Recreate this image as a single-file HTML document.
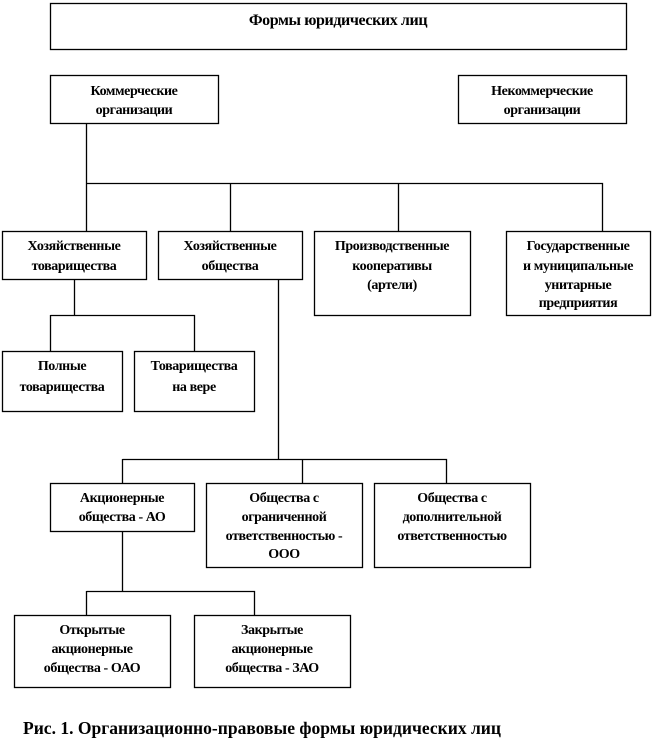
<!DOCTYPE html>
<html><head><meta charset="utf-8"><style>
html,body{margin:0;padding:0;background:#fff;}
svg{display:block;}
text{font-family:"Liberation Serif","Times New Roman",Times,serif;font-weight:bold;font-size:14px;fill:#000;text-anchor:middle;letter-spacing:-0.4px;}
</style></head><body>
<svg width="654" height="748" viewBox="0 0 654 748" xmlns="http://www.w3.org/2000/svg" font-family="Liberation Serif, serif">
<g fill="none" stroke="#000" stroke-width="1.3">
<rect x="50.5" y="3.5" width="576" height="46"/>
<rect x="50.5" y="75.5" width="168" height="48"/>
<rect x="458.5" y="75.5" width="168" height="48"/>
<rect x="2.5" y="231.5" width="144" height="48"/>
<rect x="158.5" y="231.5" width="144" height="48"/>
<rect x="314.5" y="231.5" width="156" height="84"/>
<rect x="506.5" y="231.5" width="144" height="84"/>
<rect x="2.5" y="351.5" width="120" height="60"/>
<rect x="134.5" y="351.5" width="120" height="60"/>
<rect x="50.5" y="483.5" width="144" height="48"/>
<rect x="206.5" y="483.5" width="156" height="84"/>
<rect x="374.5" y="483.5" width="156" height="84"/>
<rect x="14.5" y="615.5" width="156" height="72"/>
<rect x="194.5" y="615.5" width="156" height="72"/>
<path d="M86.5 123V183.5H602.5V231M86.5 183V231M230.5 183V231M398.5 183V231"/>
<path d="M74.5 279V315.5M50.5 315.5H194.5V351M50.5 315V351"/>
<path d="M278.5 279V459.5H446.5V483M122.5 459V483M302.5 459V483M122.5 459.5H278"/>
<path d="M122.5 531V591.5M86.5 591.5H254.5V615M86.5 591V615"/>
</g>
<text x="338" y="25" style="font-size:16px">Формы юридических лиц</text>
<text x="134" y="95">Коммерческие</text><text x="134" y="114">организации</text>
<text x="542" y="95">Некоммерческие</text><text x="542" y="114">организации</text>
<text x="74" y="250">Хозяйственные</text><text x="74" y="270">товарищества</text>
<text x="230" y="250">Хозяйственные</text><text x="230" y="270">общества</text>
<text x="392" y="250">Производственные</text><text x="392" y="270">кооперативы</text><text x="392" y="289">(артели)</text>
<text x="578" y="250">Государственные</text><text x="578" y="270">и муниципальные</text><text x="578" y="289">унитарные</text><text x="578" y="307">предприятия</text>
<text x="62" y="370">Полные</text><text x="62" y="391">товарищества</text>
<text x="194" y="370">Товарищества</text><text x="194" y="391">на вере</text>
<text x="122" y="502">Акционерные</text><text x="122" y="521">общества - АО</text>
<text x="284" y="502">Общества с</text><text x="284" y="521">ограниченной</text><text x="284" y="540">ответственностью -</text><text x="284" y="558">ООО</text>
<text x="452" y="502">Общества с</text><text x="452" y="521">дополнительной</text><text x="452" y="540">ответственностью</text>
<text x="92" y="634">Открытые</text><text x="92" y="653">акционерные</text><text x="92" y="672">общества - ОАО</text>
<text x="272" y="634">Закрытые</text><text x="272" y="653">акционерные</text><text x="272" y="672">общества - ЗАО</text>
<text x="23" y="734" textLength="478" lengthAdjust="spacingAndGlyphs" style="font-size:18px;text-anchor:start;letter-spacing:0">Рис. 1. Организационно-правовые формы юридических лиц</text>
</svg>
</body></html>
